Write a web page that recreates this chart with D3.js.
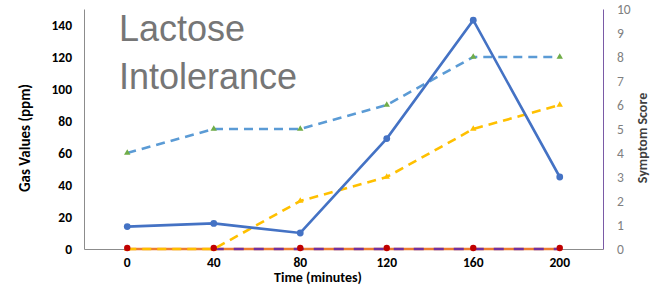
<!DOCTYPE html>
<html>
<head>
<meta charset="utf-8">
<script src="https://cdn.jsdelivr.net/npm/d3@7"></script>
<style>
  body { margin: 0; background: #fff; }
  text { font-family: Calibri, Carlito, "Liberation Sans", Arial, sans-serif; }
</style>
</head>
<body>
<div id="app"></div>
<script>
const times = [0, 40, 80, 120, 160, 200]
const gasTicks = [0, 20, 40, 60, 80, 100, 120, 140]
const scoreTicks = [0, 1, 2, 3, 4, 5, 6, 7, 8, 9, 10]

const hydrogen = [14, 16, 10, 69, 143, 45]
const methane = [60, 75, 75, 90, 120, 120]
const bloating = [0, 0, 30, 45, 75, 90]
const orangeZero = [0, 0, 0, 0, 0, 0]
const purpleZero = [null, 0, 0, 0, 0, 0]
const redZero = [0, 0, 0, 0, 0, 0]

const width = 652, height = 285
const m_left = 84, m_right = 603, m_top = 9, m_bottom = 249

const svg = d3.select("#app").append("svg")
  .attr("width", width).attr("height", height)

const x = d3.scaleBand().domain(times).range([m_left, m_right])
const cx = t => x(t) + x.bandwidth() / 2
const y = d3.scaleLinear().domain([0, 150]).range([m_bottom, m_top])
const y2 = d3.scaleLinear().domain([0, 10]).range([m_bottom, m_top])

// axes
svg.append("g")
  .attr("transform", `translate(${m_left},0)`)
  .call(d3.axisLeft(y).tickValues(gasTicks).tickSize(0).tickPadding(12))
  .call(g => g.select(".domain").attr("stroke", "#8c8c8c"))
  .call(g => g.selectAll("text").attr("font-size", 13.5).attr("font-weight", "bold").attr("fill", "#000"))

svg.append("g")
  .attr("transform", `translate(${m_right},0)`)
  .call(d3.axisRight(y2).tickValues(scoreTicks).tickSize(0).tickPadding(14))
  .call(g => g.select(".domain").attr("stroke", "#7a5aa6"))
  .call(g => g.selectAll("text").attr("font-size", 13.5).attr("fill", "#7f7f7f"))

svg.append("g")
  .attr("transform", `translate(0,${m_bottom})`)
  .call(d3.axisBottom(x).tickSize(0).tickPadding(8))
  .call(g => g.select(".domain").attr("stroke", "#8c8c8c"))
  .call(g => g.selectAll("text").attr("font-size", 13.5).attr("font-weight", "bold").attr("fill", "#000"))

// axis titles
svg.append("text")
  .attr("transform", `translate(30,138) rotate(-90)`)
  .attr("text-anchor", "middle")
  .attr("font-size", 15).attr("font-weight", "bold")
  .text("Gas Values (ppm)")

svg.append("text")
  .attr("transform", `translate(647,138) rotate(-90)`)
  .attr("text-anchor", "middle")
  .attr("font-size", 14).attr("font-weight", "bold").attr("fill", "#404040")
  .text("Symptom Score")

svg.append("text")
  .attr("x", 318).attr("y", 281.5)
  .attr("text-anchor", "middle")
  .attr("font-size", 14).attr("font-weight", "bold")
  .text("Time (minutes)")

// title
const title = svg.append("text")
  .style("font-family", "'Liberation Sans', Arial, sans-serif")
  .attr("font-size", 36).attr("fill", "#767676")
title.append("tspan").attr("x", 119).attr("y", 41).text("Lactose")
title.append("tspan").attr("x", 119).attr("y", 89).text("Intolerance")

// series
const line = d3.line()
  .defined(d => d.v != null)
  .x(d => cx(d.t)).y(d => y(d.v))

const pts = vals => times.map((t, i) => ({t, v: vals[i]}))

const draw = (vals, color, dash, offset) => {
  svg.append("path")
    .datum(pts(vals))
    .attr("fill", "none")
    .attr("stroke", color)
    .attr("stroke-width", 2.6)
    .attr("stroke-dasharray", dash)
    .attr("stroke-dashoffset", offset || 0)
    .attr("d", line)
}

draw(orangeZero, "#ed7d31", null)
draw(purpleZero, "#7030a0", "10,10", 0)
draw(bloating, "#ffc000", "9,6", 0)
draw(methane, "#5b9bd5", "9,6", 0)
draw(hydrogen, "#4472c4", null)

const tri = d3.symbol().type(d3.symbolTriangle).size(18)

svg.append("g").selectAll("path")
  .data(pts(bloating)).join("path")
  .attr("transform", d => `translate(${cx(d.t)},${y(d.v)})`)
  .attr("d", tri).attr("fill", "#ffc000")

svg.append("g").selectAll("path")
  .data(pts(methane)).join("path")
  .attr("transform", d => `translate(${cx(d.t)},${y(d.v)})`)
  .attr("d", tri).attr("fill", "#70ad47")

svg.append("g").selectAll("circle")
  .data(pts(hydrogen)).join("circle")
  .attr("cx", d => cx(d.t)).attr("cy", d => y(d.v))
  .attr("r", 3.4).attr("fill", "#4472c4")

svg.append("g").selectAll("circle")
  .data(pts(redZero)).join("circle")
  .attr("cx", d => cx(d.t)).attr("cy", d => y(d.v) - 1)
  .attr("r", 3.2).attr("fill", "#c00000")
</script>
</body>
</html>
